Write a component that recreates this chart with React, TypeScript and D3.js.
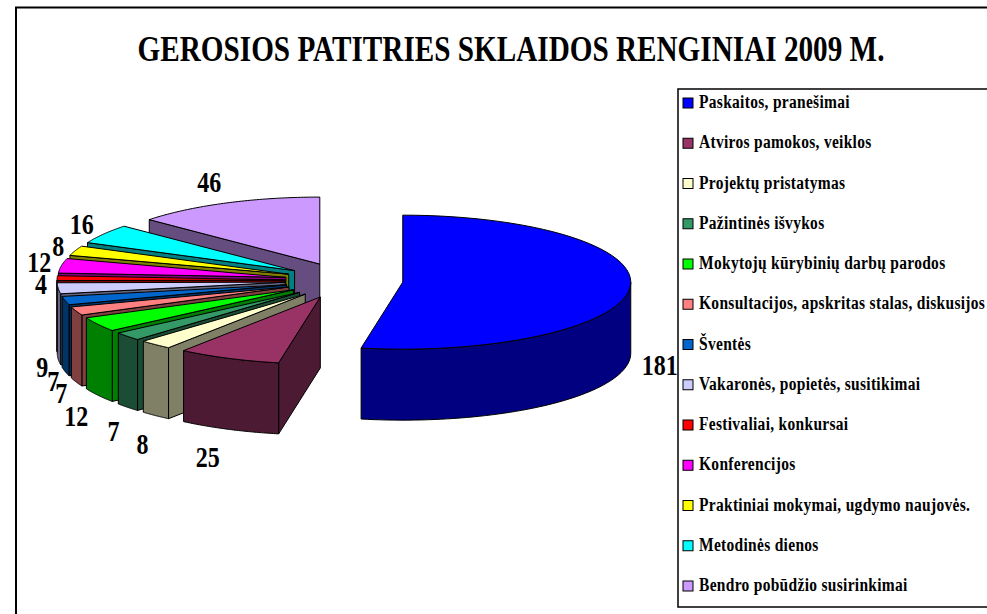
import * as d3 from 'd3';

const categories = [
    'Paskaitos, pranešimai',
    'Atviros pamokos, veiklos',
    'Projektų pristatymas',
    'Pažintinės išvykos',
    'Mokytojų kūrybinių darbų parodos',
    'Konsultacijos, apskritas stalas, diskusijos',
    'Šventės',
    'Vakaronės, popietės, susitikimai',
    'Festivaliai, konkursai',
    'Konferencijos',
    'Praktiniai mokymai, ugdymo naujovės.',
    'Metodinės dienos',
    'Bendro pobūdžio susirinkimai',
];
const values = [181, 25, 8, 7, 12, 7, 7, 9, 4, 12, 8, 16, 46];
const topColors = ['#0000ff', '#993366', '#ffffcc', '#339966', '#00ff00', '#ff8080', '#0066cc', '#ccccff', '#ff0000', '#ff00ff', '#ffff00', '#00ffff', '#cc99ff'];
const wallColors = ['#000080', '#4d1a33', '#808066', '#1a4d33', '#008000', '#804040', '#003366', '#666680', '#800000', '#800080', '#808000', '#008080', '#664d80'];
const title = 'GEROSIOS PATITRIES SKLAIDOS RENGINIAI 2009 M.';

const width = 987;
const height = 614;
const serif = '"Liberation Serif", "Times New Roman", serif';

// pie geometry
const cx = 344;
const cy = 280.5;
const rx = 228;
const ry = 67;
const depth = 71;
const explodeX = 59;
const explodeY = 18;

// hand tweaks for the data labels, same order as values
const labelNudge = [[2, -4], [1, -1], [3, 4], [2, 1], [0, 1], [1, -5], [4, -4], [0, -2], [0, 1], [0, -5], [-1, -2], [0, -3], [5, -6]];

// the source text is drawn taller than the font's natural shape
const stretch = 1.2;

const line = d3.line();

const App = () => {
    const arcs = d3.pie<number>().sort(null)(values);

    const slices = arcs.map((arc, i) => {
        const a0 = arc.startAngle;
        const a1 = arc.endAngle;
        const mid = (a0 + a1) / 2;
        const ox = cx + explodeX * Math.sin(mid);
        const oy = cy - explodeY * Math.cos(mid);
        const rim = (a: number): [number, number] => [ox + rx * Math.sin(a), oy - ry * Math.cos(a)];
        const down = ([x, y]: [number, number]): [number, number] => [x, y + depth];

        const arcPoints = d3.range(0, 61).map((k) => rim(a0 + ((a1 - a0) * k) / 60));
        const top = line([[ox, oy], ...arcPoints])! + 'Z';

        // outer wall only shows on the front half of the ellipse
        const from = Math.max(a0, Math.PI / 2);
        const to = Math.min(a1, (3 * Math.PI) / 2);
        let wall = null;
        if (to > from) {
            const pts = d3.range(0, 61).map((k) => rim(from + ((to - from) * k) / 60));
            wall = line([...pts, ...pts.slice().reverse().map(down)])! + 'Z';
        }

        // cut side: start edge faces the viewer between 180 and 360 degrees
        const side = a0 > Math.PI
            ? line([[ox, oy], rim(a0), down(rim(a0)), down([ox, oy])])! + 'Z'
            : null;

        const [rimX, rimY] = rim(mid);
        const label = String(values[i]);
        const sign = Math.sign(Math.sin(mid));
        const lx = rimX + sign * (10 + label.length * 6) + labelNudge[i][0];
        const ly = rimY - Math.cos(mid) * 22 + (Math.cos(mid) < 0 ? depth + 8 : 5) + labelNudge[i][1];

        return { i, top, wall, side, lx, ly, label };
    });

    // paint back to front: the pie's far slices first, blue last on its own
    const order = [...slices.slice(1).reverse(), slices[0]];

    const legendY = d3.scaleLinear().domain([0, categories.length - 1]).range([103, 586]);

    return (
        <svg width={width} height={height} style={{ position: 'absolute', left: 0, top: 0, background: '#fff' }}>
            <path d={`M16,${height} V7.5 H${width}`} fill="none" stroke="#000" strokeWidth={2} />
            <text transform={`translate(511,61) scale(1,${stretch})`} textAnchor="middle" fontFamily={serif} fontWeight="bold" fontSize={29.2}>
                {title}
            </text>

            {order.map((s) => (
                <g key={s.i} stroke="#000" strokeWidth={1} strokeLinejoin="round">
                    {s.side && <path d={s.side} fill={wallColors[s.i]} />}
                    {s.wall && <path d={s.wall} fill={wallColors[s.i]} />}
                    <path d={s.top} fill={topColors[s.i]} />
                </g>
            ))}

            {slices.map((s) => (
                <text key={s.i} transform={`translate(${s.lx},${s.ly}) scale(1,${stretch})`} dy="0.35em" textAnchor="middle" fontFamily={serif} fontWeight="bold" fontSize={24}>
                    {s.label}
                </text>
            ))}

            <path d={`M${width},89 H678 V607 H${width}`} fill="none" stroke="#000" strokeWidth={1.5} />
            {categories.map((name, i) => (
                <g key={name} transform={`translate(683,${legendY(i)})`}>
                    <rect x={0} y={-5} width={10} height={10} fill={topColors[i]} stroke="#000" strokeWidth={1} />
                    <text transform={`translate(16,5) scale(1,${stretch})`} fontFamily={serif} fontWeight="bold" fontSize={15.5} letterSpacing={0.3}>
                        {name}
                    </text>
                </g>
            ))}
        </svg>
    );
};

export default App;
